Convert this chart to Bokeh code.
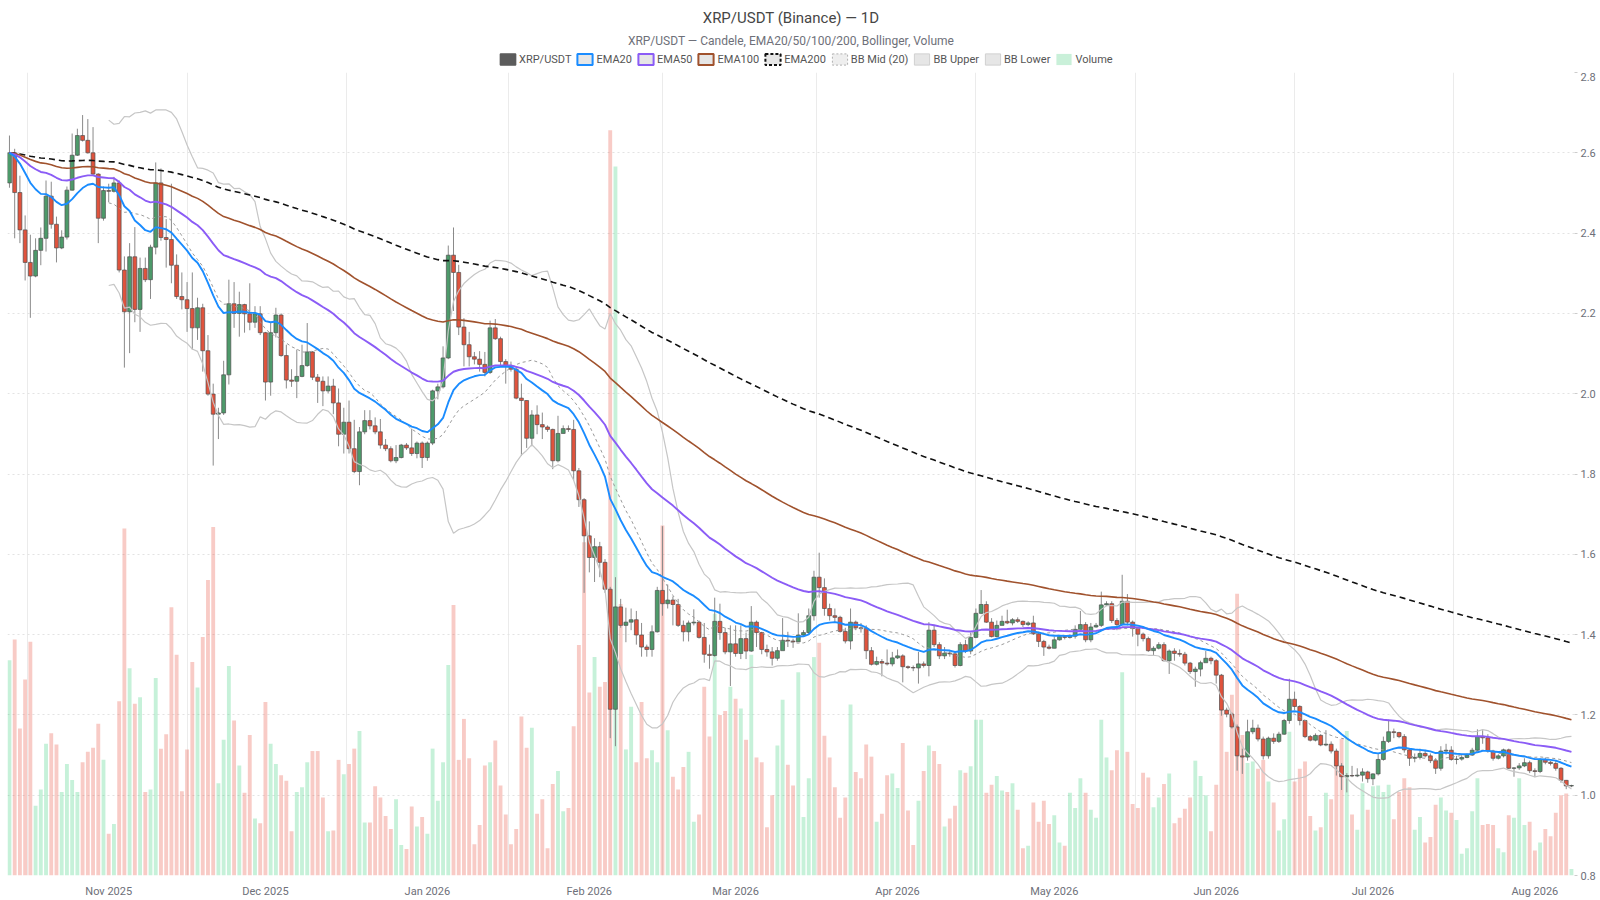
import numpy as np
import pandas as pd
from bokeh.plotting import figure
from bokeh.layouts import column
from bokeh.models import (ColumnDataSource, Range1d, FixedTicker, Legend, LegendItem,
                          NumeralTickFormatter, DatetimeTickFormatter)
from bokeh.core.properties import value
from bokeh.embed import file_html
from bokeh.resources import INLINE

# ---------------- data ----------------
FIRST_DAY = "2025-10-13"
FIRST_OPEN = 2.525

CLOSE = [
    2.600, 2.501, 2.408, 2.327, 2.293, 2.357, 2.387, 2.492, 2.422, 2.363,
    2.390, 2.507, 2.594, 2.643, 2.631, 2.600, 2.547, 2.437, 2.506, 2.504,
    2.525, 2.308, 2.204, 2.341, 2.210, 2.312, 2.284, 2.365, 2.525, 2.389,
    2.384, 2.320, 2.242, 2.234, 2.212, 2.164, 2.214, 2.107, 1.999, 1.949,
    1.952, 2.047, 2.224, 2.200, 2.222, 2.199, 2.178, 2.199, 2.152, 2.029,
    2.152, 2.196, 2.095, 2.034, 2.031, 2.043, 2.070, 2.104, 2.041, 2.031,
    2.007, 2.019, 1.977, 1.899, 1.929, 1.863, 1.806, 1.905, 1.933, 1.920,
    1.905, 1.872, 1.863, 1.833, 1.841, 1.872, 1.865, 1.851, 1.877, 1.841,
    1.877, 2.007, 2.017, 2.089, 2.345, 2.302, 2.166, 2.122, 2.092, 2.086,
    2.073, 2.053, 2.164, 2.137, 2.080, 2.070, 2.061, 1.989, 1.983, 1.889,
    1.947, 1.923, 1.917, 1.911, 1.833, 1.901, 1.913, 1.911, 1.808, 1.736,
    1.646, 1.592, 1.619, 1.580, 1.513, 1.214, 1.469, 1.423, 1.431, 1.437,
    1.399, 1.369, 1.363, 1.407, 1.510, 1.477, 1.486, 1.475, 1.423, 1.407,
    1.429, 1.431, 1.393, 1.351, 1.348, 1.433, 1.405, 1.357, 1.377, 1.353,
    1.390, 1.359, 1.431, 1.405, 1.363, 1.357, 1.341, 1.360, 1.386, 1.384,
    1.382, 1.399, 1.405, 1.447, 1.543, 1.517, 1.465, 1.447, 1.443, 1.408,
    1.384, 1.431, 1.417, 1.415, 1.360, 1.326, 1.333, 1.329, 1.327, 1.342,
    1.347, 1.320, 1.318, 1.317, 1.327, 1.323, 1.411, 1.375, 1.347, 1.354,
    1.352, 1.323, 1.375, 1.359, 1.393, 1.453, 1.475, 1.431, 1.395, 1.423,
    1.433, 1.429, 1.437, 1.433, 1.425, 1.429, 1.402, 1.383, 1.369, 1.366,
    1.387, 1.395, 1.393, 1.396, 1.413, 1.425, 1.387, 1.419, 1.423, 1.474,
    1.477, 1.435, 1.425, 1.483, 1.431, 1.415, 1.401, 1.390, 1.360, 1.366,
    1.375, 1.335, 1.359, 1.353, 1.351, 1.329, 1.308, 1.314, 1.330, 1.341,
    1.335, 1.299, 1.212, 1.202, 1.170, 1.098, 1.095, 1.158, 1.167, 1.140,
    1.098, 1.142, 1.134, 1.152, 1.186, 1.239, 1.221, 1.186, 1.146, 1.137,
    1.149, 1.125, 1.127, 1.110, 1.073, 1.046, 1.049, 1.048, 1.050, 1.058,
    1.041, 1.053, 1.089, 1.134, 1.158, 1.156, 1.146, 1.113, 1.092, 1.094,
    1.104, 1.098, 1.086, 1.067, 1.110, 1.112, 1.089, 1.090, 1.094, 1.100,
    1.112, 1.146, 1.143, 1.110, 1.092, 1.098, 1.113, 1.067, 1.068, 1.073,
    1.081, 1.061, 1.059, 1.089, 1.082, 1.079, 1.067, 1.037, 1.023, 1.024,
]

HIGH = [
    2.643, 2.610, 2.543, 2.444, 2.396, 2.387, 2.414, 2.531, 2.528, 2.441,
    2.407, 2.516, 2.648, 2.660, 2.694, 2.684, 2.664, 2.549, 2.516, 2.523,
    2.540, 2.531, 2.342, 2.375, 2.415, 2.339, 2.339, 2.371, 2.576, 2.561,
    2.435, 2.523, 2.347, 2.302, 2.278, 2.302, 2.239, 2.224, 2.146, 2.025,
    1.965, 2.082, 2.284, 2.278, 2.254, 2.224, 2.275, 2.218, 2.218, 2.154,
    2.176, 2.214, 2.200, 2.122, 2.061, 2.110, 2.122, 2.176, 2.106, 2.049,
    2.043, 2.043, 2.037, 2.013, 1.965, 1.983, 1.935, 1.917, 1.959, 1.959,
    1.941, 1.937, 1.887, 1.869, 1.872, 1.875, 1.877, 1.913, 1.881, 1.881,
    1.881, 2.010, 2.025, 2.118, 2.369, 2.414, 2.321, 2.188, 2.154, 2.104,
    2.106, 2.104, 2.182, 2.186, 2.142, 2.086, 2.080, 2.067, 2.025, 1.983,
    1.959, 1.971, 1.953, 1.921, 1.913, 1.945, 1.921, 1.921, 1.935, 1.815,
    1.740, 1.682, 1.640, 1.631, 1.588, 1.519, 1.543, 1.489, 1.467, 1.465,
    1.459, 1.429, 1.375, 1.423, 1.519, 1.670, 1.525, 1.495, 1.489, 1.435,
    1.435, 1.463, 1.435, 1.429, 1.375, 1.492, 1.477, 1.417, 1.423, 1.423,
    1.423, 1.405, 1.471, 1.435, 1.407, 1.375, 1.369, 1.369, 1.441, 1.407,
    1.390, 1.453, 1.411, 1.465, 1.559, 1.604, 1.540, 1.477, 1.465, 1.447,
    1.417, 1.465, 1.435, 1.429, 1.423, 1.369, 1.345, 1.339, 1.363, 1.357,
    1.363, 1.351, 1.323, 1.323, 1.357, 1.333, 1.431, 1.423, 1.381, 1.369,
    1.360, 1.357, 1.381, 1.387, 1.405, 1.465, 1.511, 1.483, 1.441, 1.435,
    1.447, 1.462, 1.441, 1.443, 1.435, 1.433, 1.447, 1.407, 1.387, 1.375,
    1.395, 1.399, 1.399, 1.401, 1.423, 1.459, 1.431, 1.429, 1.429, 1.507,
    1.483, 1.483, 1.441, 1.549, 1.501, 1.435, 1.417, 1.405, 1.395, 1.371,
    1.381, 1.381, 1.363, 1.366, 1.363, 1.357, 1.332, 1.320, 1.335, 1.359,
    1.345, 1.339, 1.302, 1.218, 1.206, 1.176, 1.116, 1.188, 1.188, 1.176,
    1.146, 1.146, 1.154, 1.158, 1.190, 1.290, 1.258, 1.224, 1.188, 1.150,
    1.154, 1.152, 1.162, 1.134, 1.116, 1.080, 1.055, 1.073, 1.067, 1.067,
    1.061, 1.055, 1.104, 1.146, 1.188, 1.166, 1.158, 1.152, 1.116, 1.104,
    1.116, 1.113, 1.104, 1.092, 1.122, 1.128, 1.122, 1.098, 1.101, 1.104,
    1.118, 1.164, 1.162, 1.152, 1.113, 1.102, 1.116, 1.116, 1.070, 1.080,
    1.092, 1.086, 1.067, 1.092, 1.094, 1.085, 1.085, 1.070, 1.038, 1.026,
]

LOW = [
    2.513, 2.387, 2.375, 2.282, 2.189, 2.290, 2.320, 2.354, 2.411, 2.327,
    2.360, 2.384, 2.506, 2.592, 2.628, 2.598, 2.543, 2.375, 2.431, 2.477,
    2.501, 2.302, 2.065, 2.101, 2.178, 2.154, 2.278, 2.236, 2.347, 2.381,
    2.314, 2.275, 2.236, 2.210, 2.154, 2.110, 2.134, 2.055, 1.995, 1.821,
    1.887, 1.947, 2.023, 2.164, 2.142, 2.152, 2.158, 2.164, 2.146, 1.983,
    1.995, 2.140, 2.092, 2.013, 2.017, 1.989, 2.041, 2.067, 2.034, 1.977,
    1.969, 2.001, 1.949, 1.869, 1.851, 1.851, 1.802, 1.772, 1.899, 1.911,
    1.899, 1.863, 1.857, 1.829, 1.827, 1.839, 1.860, 1.845, 1.839, 1.815,
    1.833, 1.872, 1.986, 2.013, 2.086, 2.206, 2.146, 2.068, 2.068, 2.073,
    2.055, 2.043, 2.049, 2.134, 2.070, 2.025, 2.055, 1.986, 1.845, 1.865,
    1.869, 1.899, 1.887, 1.905, 1.812, 1.829, 1.901, 1.905, 1.784, 1.718,
    1.504, 1.555, 1.531, 1.543, 1.504, 1.142, 1.122, 1.417, 1.381, 1.411,
    1.375, 1.345, 1.345, 1.345, 1.405, 1.447, 1.465, 1.423, 1.419, 1.383,
    1.383, 1.423, 1.390, 1.330, 1.315, 1.345, 1.387, 1.351, 1.272, 1.345,
    1.339, 1.339, 1.357, 1.369, 1.351, 1.345, 1.323, 1.335, 1.363, 1.369,
    1.367, 1.383, 1.395, 1.401, 1.435, 1.492, 1.447, 1.435, 1.429, 1.405,
    1.378, 1.363, 1.411, 1.405, 1.339, 1.323, 1.323, 1.296, 1.323, 1.321,
    1.339, 1.281, 1.314, 1.309, 1.278, 1.318, 1.296, 1.369, 1.339, 1.339,
    1.345, 1.318, 1.321, 1.354, 1.351, 1.391, 1.451, 1.429, 1.393, 1.393,
    1.423, 1.426, 1.423, 1.429, 1.419, 1.421, 1.399, 1.369, 1.347, 1.363,
    1.366, 1.385, 1.388, 1.390, 1.390, 1.417, 1.381, 1.381, 1.417, 1.419,
    1.471, 1.429, 1.411, 1.423, 1.423, 1.395, 1.371, 1.383, 1.357, 1.347,
    1.363, 1.333, 1.302, 1.335, 1.345, 1.323, 1.302, 1.270, 1.296, 1.335,
    1.326, 1.278, 1.198, 1.194, 1.166, 1.061, 1.053, 1.086, 1.152, 1.134,
    1.089, 1.091, 1.128, 1.130, 1.150, 1.178, 1.212, 1.174, 1.142, 1.134,
    1.134, 1.122, 1.122, 1.104, 1.049, 1.013, 1.007, 1.045, 1.045, 1.034,
    1.031, 1.025, 1.049, 1.086, 1.130, 1.142, 1.142, 1.106, 1.073, 1.082,
    1.089, 1.094, 1.080, 1.053, 1.061, 1.101, 1.086, 1.077, 1.086, 1.092,
    1.098, 1.110, 1.128, 1.106, 1.086, 1.089, 1.094, 1.065, 1.046, 1.063,
    1.070, 1.055, 1.045, 1.055, 1.077, 1.074, 1.061, 1.031, 1.015, 1.020,
]

VOLUME = [  # millions (relative heights as read)
    268, 294, 183, 244, 291, 87, 107, 164, 177, 163,
    104, 139, 119, 104, 141, 154, 159, 189, 144, 52,
    64, 217, 432, 258, 214, 222, 104, 107, 246, 158,
    176, 334, 275, 105, 157, 266, 234, 297, 368, 434,
    115, 169, 261, 193, 137, 103, 175, 71, 65, 216,
    164, 139, 125, 118, 55, 104, 110, 141, 155, 155,
    97, 55, 56, 144, 126, 139, 158, 180, 66, 66,
    111, 97, 74, 58, 95, 38, 33, 86, 61, 73,
    52, 158, 93, 141, 262, 337, 144, 195, 146, 39,
    63, 137, 141, 168, 112, 76, 39, 58, 198, 159,
    184, 77, 95, 34, 114, 130, 80, 84, 186, 287,
    415, 228, 272, 235, 241, 928, 883, 338, 157, 210,
    141, 216, 146, 156, 141, 436, 181, 123, 107, 135,
    154, 67, 76, 235, 173, 326, 200, 205, 235, 220,
    208, 169, 275, 147, 141, 60, 100, 162, 219, 138,
    112, 253, 73, 121, 272, 290, 174, 147, 110, 72,
    97, 213, 129, 121, 163, 148, 67, 77, 125, 127,
    109, 165, 81, 38, 93, 130, 162, 155, 139, 61,
    71, 87, 131, 128, 136, 194, 194, 103, 113, 124,
    106, 104, 115, 82, 34, 37, 91, 67, 93, 64,
    75, 41, 37, 103, 84, 121, 103, 82, 72, 194,
    147, 131, 156, 253, 154, 89, 84, 128, 122, 85,
    97, 114, 127, 65, 72, 83, 97, 143, 124, 100,
    55, 113, 226, 154, 225, 351, 175, 140, 142, 133,
    144, 117, 91, 56, 70, 179, 117, 133, 142, 74,
    56, 60, 103, 95, 154, 170, 180, 76, 57, 115,
    82, 111, 112, 104, 113, 70, 104, 121, 110, 57,
    73, 41, 48, 88, 97, 81, 78, 69, 27, 34,
    80, 121, 63, 64, 63, 34, 29, 75, 72, 121,
    63, 67, 31, 41, 58, 49, 78, 100, 102, 8,
]

MONTH_STARTS = ["2025-10-01", "2025-11-01", "2025-12-01", "2026-01-01", "2026-02-01", "2026-03-01",
                "2026-04-01", "2026-05-01", "2026-06-01", "2026-07-01", "2026-08-01"]
Y_TICKS = [0.8, 1.0, 1.2, 1.4, 1.6, 1.8, 2.0, 2.2, 2.4, 2.6, 2.8]

TITLE = "XRP/USDT (Binance) — 1D"
SUBTITLE = "XRP/USDT — Candele, EMA20/50/100/200, Bollinger, Volume"

# ---------------- derived series ----------------
n = len(CLOSE)
dates = pd.date_range(FIRST_DAY, periods=n, freq="D")
OPEN = [FIRST_OPEN] + CLOSE[:-1]
c = np.array(CLOSE)
o = np.array(OPEN)
up = c >= o


def ema(vals, span):
    a = 2.0 / (span + 1)
    out = []
    e = vals[0]
    for v in vals:
        e = a * v + (1 - a) * e
        out.append(e)
    return out


s = pd.Series(CLOSE)
bb_mid = s.rolling(20).mean()
bb_sd = s.rolling(20).std(ddof=0)
bb_up = bb_mid + 2 * bb_sd
bb_lo = bb_mid - 2 * bb_sd

UP_C, DN_C = "#4d9a6a", "#e0533d"
src = ColumnDataSource(dict(
    x=dates, open=o, close=c, high=HIGH, low=LOW,
    top=np.maximum(o, c), bottom=np.minimum(o, c),
    color=[UP_C if u else DN_C for u in up],
    vol=VOLUME,
    vcolor=["#2ecc71" if u else "#e74c3c" for u in up],
    valpha=[0.27 if u else 0.29 for u in up],
    ema20=ema(CLOSE, 20), ema50=ema(CLOSE, 50), ema100=ema(CLOSE, 100), ema200=ema(CLOSE, 200),
    bbm=bb_mid, bbu=bb_up, bbl=bb_lo,
))

DAY = 86400000
FONT = "Roboto"
W = 1600
HEAD_H = 72
MAIN_H = 828

month_ms = [pd.Timestamp(d).value / 1e6 for d in MONTH_STARTS]
label_ticks = month_ms[1:]
grid_ticks = [(a + b) / 2 for a, b in zip(month_ms[:-1], month_ms[1:])]

# ---------------- header (title, subtitle, legend) ----------------
head = figure(width=W, height=HEAD_H, x_range=Range1d(0, W), y_range=Range1d(0, HEAD_H),
              x_axis_location=None, y_axis_location=None, output_backend="svg",
              toolbar_location=None, min_border=0)
head.outline_line_color = None
head.grid.visible = False
head.text(x=[W / 2], y=[HEAD_H - 17.5], text=[TITLE], text_align="center", text_baseline="middle",
          text_font=value(FONT), text_font_size="15px", text_color="#464646")
head.text(x=[W / 2], y=[HEAD_H - 40], text=[SUBTITLE], text_align="center", text_baseline="middle",
          text_font=value(FONT), text_font_size="12px", text_color="#6e7079")

NAN = [float("nan")]


def swatch(fill, line, dash="solid", lw=1.5):
    return head.rect(x=NAN, y=NAN, width=1, height=1, fill_color=fill, line_color=line,
                     line_width=lw, line_dash=dash)


items = [
    LegendItem(label="XRP/USDT", renderers=[swatch("#5c5c5c", "#5c5c5c")]),
    LegendItem(label="EMA20", renderers=[swatch("#e6e6e6", "#1a8cff", lw=2)]),
    LegendItem(label="EMA50", renderers=[swatch("#e6e6e6", "#8b5cf6", lw=2)]),
    LegendItem(label="EMA100", renderers=[swatch("#e6e6e6", "#a0522d", lw=2)]),
    LegendItem(label="EMA200", renderers=[swatch("#e6e6e6", "#111111", dash="3 2", lw=2)]),
    LegendItem(label="BB Mid (20)", renderers=[swatch("#eeeeee", "#b0b0b0", dash="2 2", lw=1)]),
    LegendItem(label="BB Upper", renderers=[swatch("#e6e6e6", "#d0d0d0", lw=1)]),
    LegendItem(label="BB Lower", renderers=[swatch("#e6e6e6", "#d0d0d0", lw=1)]),
    LegendItem(label="Volume", renderers=[swatch("#c9f0d9", None)]),
]
legend = Legend(items=items, orientation="horizontal", location=(491, 6),
                glyph_width=19, glyph_height=14, spacing=4, label_standoff=2,
                padding=2, margin=0, border_line_color=None, background_fill_alpha=0,
                label_text_font=FONT, label_text_font_size="11px", label_text_color="#555555")
head.add_layout(legend)

# ---------------- main chart ----------------
p = figure(width=W, height=MAIN_H, x_axis_type="datetime", y_axis_location="right",
           x_range=Range1d(dates[0] - pd.Timedelta(hours=9), dates[-1] + pd.Timedelta(hours=14)),
           y_range=Range1d(0.8, 2.8), output_backend="svg", toolbar_location=None,
           min_border_left=7, min_border_right=26, min_border_top=0, min_border_bottom=24)
p.outline_line_color = None
p.extra_y_ranges = {"vol": Range1d(0, 1000)}

p.ygrid.ticker = FixedTicker(ticks=Y_TICKS)
p.ygrid.grid_line_color = "#e3e3e3"
p.ygrid.grid_line_dash = "2 3"
p.xgrid.ticker = FixedTicker(ticks=grid_ticks)
p.xgrid.grid_line_color = "#ebebeb"

xa = p.xaxis[0]
xa.ticker = FixedTicker(ticks=label_ticks)
xa.formatter = DatetimeTickFormatter(days="%b %Y", months="%b %Y", years="%b %Y", hours="%b %Y")
xa.axis_line_color = None
xa.major_tick_line_color = None
xa.minor_tick_line_color = None
xa.major_tick_out = 0
xa.major_label_standoff = 9
xa.major_label_text_font = FONT
xa.major_label_text_font_size = "11px"
xa.major_label_text_color = "#6e7079"

ya = p.yaxis[0]
ya.ticker = FixedTicker(ticks=Y_TICKS)
ya.formatter = NumeralTickFormatter(format="0.0")
ya.axis_line_color = None
ya.major_tick_line_color = "#cccccc"
ya.major_tick_out = 3
ya.major_tick_in = 0
ya.minor_tick_line_color = None
ya.major_label_standoff = 3
ya.major_label_text_font = FONT
ya.major_label_text_font_size = "11px"
ya.major_label_text_color = "#6e7079"

# volume
p.vbar(x="x", width=0.74 * DAY, top="vol", bottom=0, y_range_name="vol", source=src,
       fill_color="vcolor", fill_alpha="valpha", line_color=None)

# candles
p.segment(x0="x", y0="high", x1="x", y1="low", source=src, line_color="#8a8a8a", line_width=1)
p.vbar(x="x", width=0.74 * DAY, top="top", bottom="bottom", source=src,
       fill_color="color", line_color="#505050", line_width=0.7)

# indicators
p.line("x", "bbu", source=src, line_color="#c6c6c6", line_width=1.2)
p.line("x", "bbl", source=src, line_color="#c6c6c6", line_width=1.2)
p.line("x", "bbm", source=src, line_color="#9a9a9a", line_width=1, line_dash="3 3")
p.line("x", "ema200", source=src, line_color="#111111", line_width=1.6, line_dash="6 4")
p.line("x", "ema100", source=src, line_color="#a0522d", line_width=1.6)
p.line("x", "ema50", source=src, line_color="#8b5cf6", line_width=1.9)
p.line("x", "ema20", source=src, line_color="#1a8cff", line_width=1.9)

layout = column(head, p, spacing=0)
open("out.html", "w").write(file_html(layout, INLINE))
